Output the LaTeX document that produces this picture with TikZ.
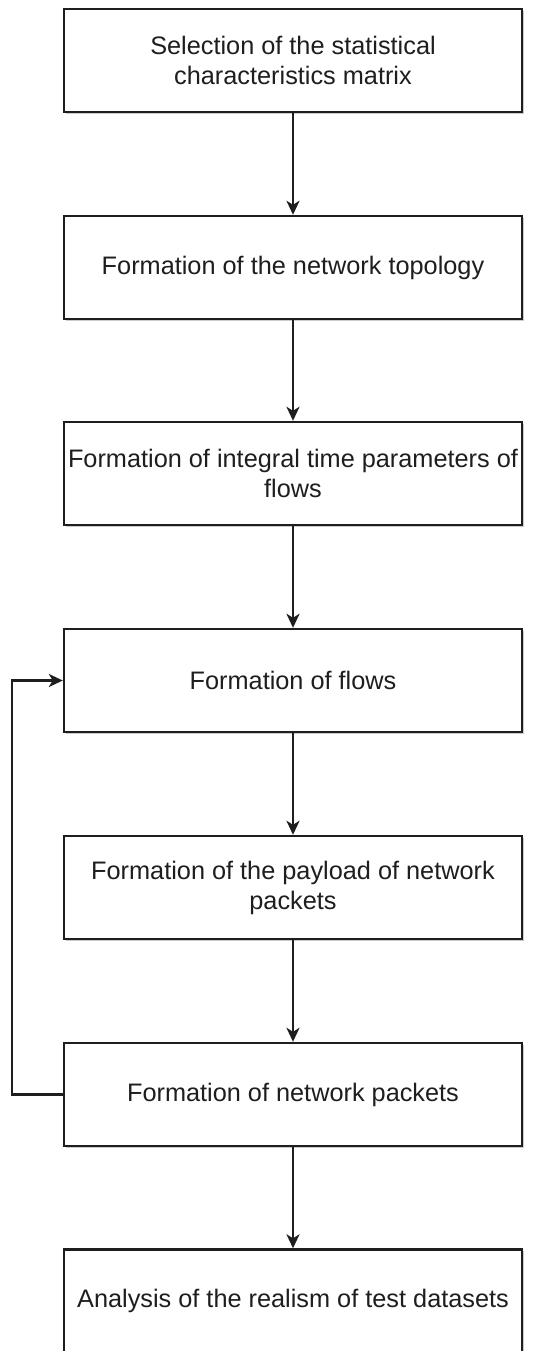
\documentclass[tikz,border=0pt]{standalone}
\usepackage{fontspec}
\setmainfont{Liberation Sans}
\usetikzlibrary{arrows.meta,shadows}

\definecolor{ink}{RGB}{30,30,30}

\tikzset{
  stepbox/.style={draw=ink, line width=2.4pt, fill=white,
    minimum width=458pt, minimum height=103pt, inner sep=0pt,
    align=center, font=\fontsize{25.3pt}{30pt}\selectfont, text=ink,
    drop shadow={shadow xshift=1.8pt, shadow yshift=-1.8pt, fill=black!45, opacity=.45}},
  flowarrow/.style={draw=ink, line width=2.4pt,
    -{Stealth[length=14pt, width=13pt, inset=4pt]}},
}

\begin{document}
\begin{tikzpicture}
\useasboundingbox (0,0) rectangle (534pt,-1351pt);

\node[stepbox] (s1) at (293pt,-60.5pt)  {Selection of the statistical\\characteristics matrix};
\node[stepbox] (s2) at (293pt,-267.5pt) {Formation of the network topology};
\node[stepbox] (s3) at (293pt,-473.5pt) {Formation of integral time parameters of\\flows};
\node[stepbox] (s4) at (293pt,-680.5pt) {Formation of flows};
\node[stepbox] (s5) at (293pt,-887.5pt) {Formation of the payload of network\\packets};
\node[stepbox] (s6) at (293pt,-1094.5pt) {Formation of network packets};
\node[stepbox] (s7) at (293pt,-1301pt) {Analysis of the realism of test datasets};

\draw[flowarrow] (s1.south) -- (s2.north);
\draw[flowarrow] (s2.south) -- (s3.north);
\draw[flowarrow] (s3.south) -- (s4.north);
\draw[flowarrow] (s4.south) -- (s5.north);
\draw[flowarrow] (s5.south) -- (s6.north);
\draw[flowarrow] (s6.south) -- (s7.north);

% feedback loop from the packets back to the flows
\draw[flowarrow] (s6.west) -- ++(-51pt,0) |- (s4.west);
\end{tikzpicture}
\end{document}
